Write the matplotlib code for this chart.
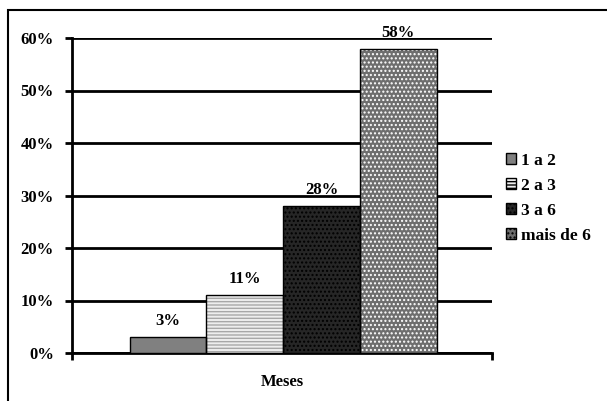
import matplotlib.pyplot as plt
from matplotlib.patches import Rectangle
from matplotlib.ticker import PercentFormatter

# tempo em meses (percentual de respostas)
faixas = ["1 a 2", "2 a 3", "3 a 6", "mais de 6"]
valores = [3, 11, 28, 58]
rotulos = ["3%", "11%", "28%", "58%"]

cores = ["#808080", "#eeeeee", "#262626", "#6e6e6e"]
hachuras = [None, "-----", "....", "...."]
cor_hachura = ["#808080", "#a8a8a8", "#000000", "#ffffff"]

plt.rcParams["font.family"] = ["Liberation Serif", "DejaVu Serif"]
plt.rcParams["font.weight"] = "bold"
plt.rcParams["hatch.linewidth"] = 1.0

fig = plt.figure(figsize=(6.07, 4.01), dpi=100)
ax = fig.add_axes([72 / 607, 48 / 401, 420 / 607, 315 / 401])

posicoes = [-1.5, -0.5, 0.5, 1.5]
for i in range(len(faixas)):
    # preenchimento + hachura, depois o contorno preto
    ax.bar(posicoes[i], valores[i], width=1, color=cores[i], hatch=hachuras[i],
           edgecolor=cor_hachura[i], linewidth=0, zorder=3)
    ax.bar(posicoes[i], valores[i], width=1, fill=False, edgecolor="black",
           linewidth=1, zorder=4, label=faixas[i])
    ax.text(posicoes[i], valores[i] + 1.5, rotulos[i], ha="center", va="bottom",
            fontsize=12, fontweight="bold", zorder=5)

ax.set_ylim(0, 60)
ax.set_xlim(-2.75, 2.72)
ax.set_yticks(range(0, 61, 10))
ax.yaxis.set_major_formatter(PercentFormatter(decimals=0))
ax.set_xticks([-2.75, 2.72])
ax.set_xticklabels(["", ""])
ax.tick_params(axis="both", direction="out", length=5, width=2, labelsize=12, pad=8)
ax.grid(axis="y", color="black", linewidth=2, zorder=1)
for s in ["top", "right"]:
    ax.spines[s].set_visible(False)
for s in ["left", "bottom"]:
    ax.spines[s].set_linewidth(2)
for lbl in ax.get_yticklabels():
    lbl.set_fontweight("bold")
ax.set_xlabel("Meses", fontsize=12, fontweight="bold", labelpad=2)

# legenda com os marcadores das barras
handles = []
for i in range(len(faixas)):
    handles.append(Rectangle((0, 0), 1, 1, facecolor=cores[i], hatch=hachuras[i],
                             edgecolor="black", linewidth=1, label=faixas[i]))
leg = fig.legend(handles=handles, loc="upper left", bbox_to_anchor=(506 / 607, 1 - 153 / 401),
                 frameon=False, fontsize=12.5, handlelength=0.6, handleheight=0.6,
                 handletextpad=0.25, labelspacing=0.52, borderaxespad=0, borderpad=0)
for t in leg.get_texts():
    t.set_fontweight("bold")

# moldura externa
fig.patches.append(Rectangle((8 / 607, -0.05), 1.1, 1 - 10 / 401 + 0.05,
                             transform=fig.transFigure, fill=False,
                             edgecolor="black", linewidth=1.5))

fig.savefig("out.png", dpi=100)
